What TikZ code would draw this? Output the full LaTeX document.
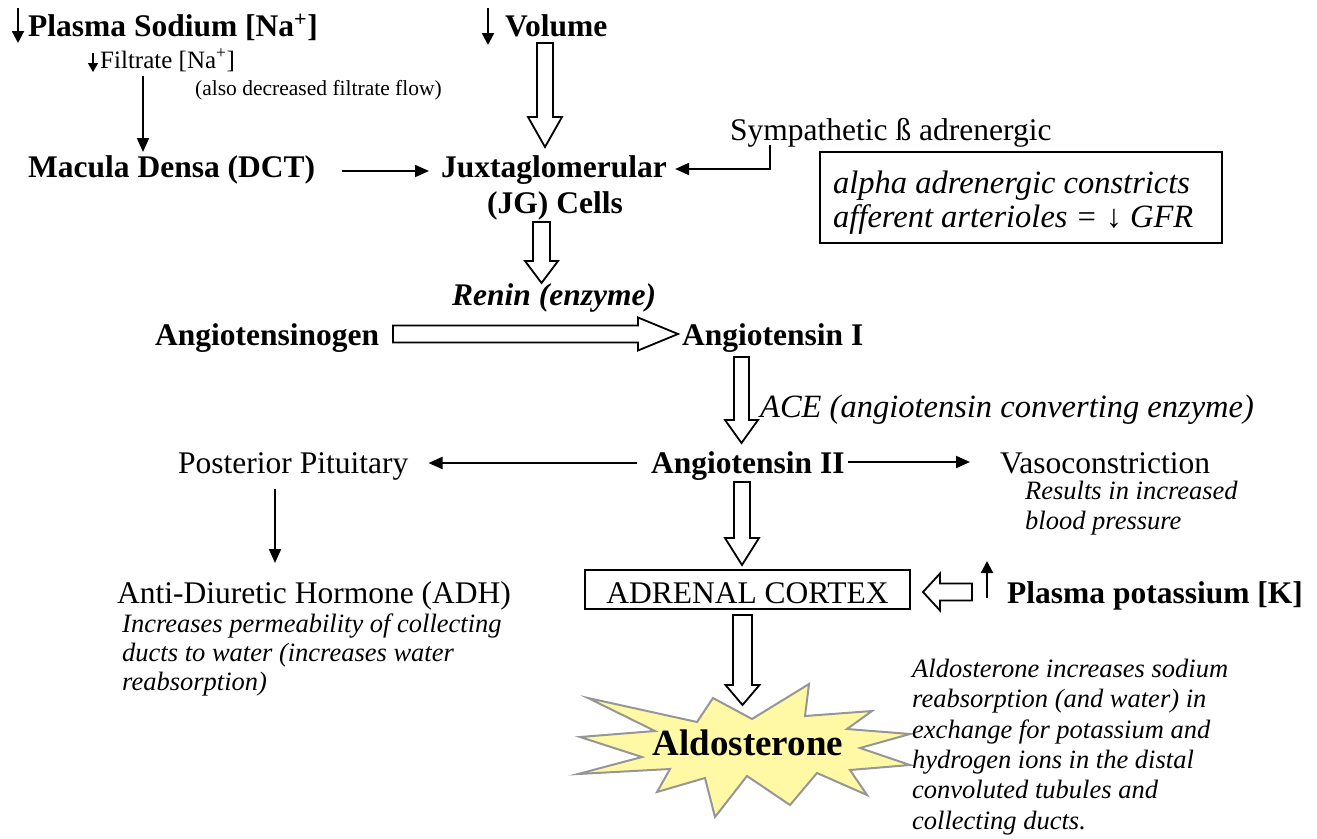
\documentclass[tikz,border=0pt]{standalone}
\usepackage{fontspec}
\setmainfont{Liberation Serif}
\usetikzlibrary{arrows.meta,calc}
\definecolor{staryellow}{RGB}{255,249,165}
\definecolor{stargray}{RGB}{150,150,150}
\newcommand\vblk[5]{\draw[blk] ($(#1)+(-#3,0)$) -- ($(#1)+(#3,0)$) -- ($(#2)+(#3,-#5)$) -- ($(#2)+(#4,-#5)$) -- (#2) -- ($(#2)+(-#4,-#5)$) -- ($(#2)+(-#3,-#5)$) -- cycle;}
\newcommand\rblk[5]{\draw[blk] ($(#1)+(0,-#3)$) -- ($(#2)+(-#5,-#3)$) -- ($(#2)+(-#5,-#4)$) -- (#2) -- ($(#2)+(-#5,#4)$) -- ($(#2)+(-#5,#3)$) -- ($(#1)+(0,#3)$) -- cycle;}
\newcommand\lblk[5]{\draw[blk] ($(#1)+(0,-#3)$) -- ($(#2)+(#5,-#3)$) -- ($(#2)+(#5,-#4)$) -- (#2) -- ($(#2)+(#5,#4)$) -- ($(#2)+(#5,#3)$) -- ($(#1)+(0,#3)$) -- cycle;}
\begin{document}
\begin{tikzpicture}[x=1pt,y=-1pt,
  lbl/.style={inner sep=0pt, anchor=base west, font=\fontsize{31.5}{36}\selectfont},
  blbl/.style={lbl, font=\fontsize{31.5}{36}\selectfont\bfseries},
  ilbl/.style={lbl, font=\fontsize{32.5}{36}\selectfont\itshape},
  note/.style={inner sep=0pt, anchor=base west, font=\fontsize{26.5}{30}\selectfont\itshape},
  arr/.style={line width=2pt, -{Triangle[length=14pt,width=12pt]}},
  sarr/.style={line width=2.2pt, -{Triangle[length=12pt,width=12pt]}},
  tarr/.style={line width=1.6pt, -{Triangle[length=9pt,width=10pt]}},
  blk/.style={draw, line width=1.8pt, fill=white, line join=miter},
  boxed/.style={draw, line width=1.8pt, inner sep=0pt},
]
\useasboundingbox (0,0) rectangle (1317,838);

% ---- top row ----
\node[blbl] (plasma) at (28,36) {Plasma Sodium [Na\textsuperscript{+}]};
\coordinate (plA) at (18,8);
\coordinate (plB) at (18,43);
\draw[sarr] (plA) -- (plB);

\node[lbl, font=\fontsize{25}{30}\selectfont] (filtrate) at (100,68) {Filtrate [Na\textsuperscript{+}]};
\coordinate (fiA) at (93,53);
\coordinate (fiB) at (93,72);
\draw[tarr] (fiA) -- (fiB);
\node[lbl, font=\fontsize{21.5}{26}\selectfont] (also) at (195,95) {(also decreased filtrate flow)};

\node[blbl] (volume) at (505,36) {Volume};
\coordinate (voA) at (488,8);
\coordinate (voB) at (488,45);
\draw[sarr] (voA) -- (voB);

% ---- macula / JG ----
\node[blbl] (macula) at (28,177) {Macula Densa (DCT)};
\node[blbl] (jg1) at (441,177) {Juxtaglomerular};
\node[blbl, anchor=base] (jg2) at (555,213) {(JG) Cells};

\coordinate (fmA) at (143,76);
\coordinate (fmB) at (143,152);
\draw[arr] (fmA) -- (fmB);
\draw[arr] ($(macula.base east)+(27,-6)$) -- ($(jg1.base west)+(-12,-6)$);

\coordinate (vhA) at (545,43);
\coordinate (vhB) at (545,147);
\vblk{vhA}{vhB}{8}{17}{30}

\node[lbl] (symp) at (730,140) {Sympathetic ß adrenergic};
\coordinate (syA) at (770,145);
\draw[arr] (syA) |- ($(jg1.base east)+(8,-8)$);

\node[boxed, minimum width=402pt, minimum height=91pt] (alphabox) at (1021,197.5) {};
\node[ilbl] (alpha1) at (833,193) {alpha adrenergic constricts};
\node[ilbl] (alpha2) at (833,227) {afferent arterioles = ↓ GFR};

% ---- renin ----
\coordinate (jgA) at (541.5,222);
\coordinate (jgB) at (541.5,283);
\vblk{jgA}{jgB}{8.5}{16.5}{22}
\node[lbl, font=\fontsize{31.5}{36}\selectfont\bfseries\itshape] (renin) at (452,305) {Renin (enzyme)};

\node[blbl] (angen) at (155,345) {Angiotensinogen};
\node[blbl] (ang1) at (682,345) {Angiotensin I};
\coordinate (reA) at (393,334);
\coordinate (reB) at (678,334);
\rblk{reA}{reB}{8.5}{16.5}{40}

% ---- ACE ----
\coordinate (acA) at (741.5,357);
\coordinate (acB) at (741.5,443);
\vblk{acA}{acB}{7.5}{16.5}{23}
\node[ilbl] (ace) at (760,417) {ACE (angiotensin converting enzyme)};

% ---- angiotensin II row ----
\node[blbl] (ang2) at (651,473) {Angiotensin II};
\node[lbl] (post) at (178,473) {Posterior Pituitary};
\node[lbl] (vaso) at (1000,473) {Vasoconstriction};
\node[note] (res1) at (1025,499) {Results in increased};
\node[note] (res2) at (1025,529) {blood pressure};
\draw[arr] ($(ang2.base west)+(-14,-10)$) -- ($(post.base east)+(20,-10)$);
\draw[arr] ($(ang2.base east)+(3,-11)$) -- ($(vaso.base west)+(-30,-11)$);

\coordinate (poA) at (275,489);
\coordinate (poB) at (275,563);
\draw[arr] (poA) -- (poB);
\node[lbl] (adh) at (117,603) {Anti-Diuretic Hormone (ADH)};
\node[note] (adh1) at (122,632) {Increases permeability of collecting};
\node[note] (adh2) at (122,661) {ducts to water (increases water};
\node[note] (adh3) at (122,690) {reabsorption)};

% ---- adrenal ----
\coordinate (a2A) at (742,482);
\coordinate (a2B) at (742,565);
\vblk{a2A}{a2B}{8}{17}{27}
\node[boxed, minimum width=325pt, minimum height=39pt] (adrbox) at (747.5,589.5) {};
\node[lbl, anchor=base] (adrenal) at (747.5,603) {ADRENAL CORTEX};

\coordinate (kA) at (972,592);
\coordinate (kB) at (923,592);
\lblk{kA}{kB}{8.5}{18.5}{17}
\coordinate (kuA) at (987,598);
\coordinate (kuB) at (987,561);
\draw[sarr] (kuA) -- (kuB);
\node[blbl] (potassium) at (1007,603) {Plasma potassium [K]};

% ---- aldosterone ----
\draw[fill=staryellow, draw=stargray, line width=2pt, line join=miter]
 (588,698) -- (697,722) -- (713,698) -- (752,719) -- (809,684) -- (805,716)
 -- (872,711) -- (847,729) -- (910,734) -- (860,748) -- (910,765) -- (850,770)
 -- (867,795) -- (817,773) -- (790,805) -- (747,776) -- (715,817) -- (705,778)
 -- (657,792) -- (670,769) -- (578,774) -- (642,757) -- (580,737) -- (655,731) -- cycle;
\node[inner sep=0pt, anchor=base, font=\fontsize{37}{42}\selectfont\bfseries] (aldo) at (748,755) {Aldosterone};
\coordinate (alA) at (742.5,615);
\coordinate (alB) at (742.5,705);
\vblk{alA}{alB}{9.5}{17}{20}

\node[note] (ald1) at (912,677) {Aldosterone increases sodium};
\node[note] (ald2) at (912,707) {reabsorption (and water) in};
\node[note] (ald3) at (912,738) {exchange for potassium and};
\node[note] (ald4) at (912,768) {hydrogen ions in the distal};
\node[note] (ald5) at (912,798) {convoluted tubules and};
\node[note] (ald6) at (912,829) {collecting ducts.};
\end{tikzpicture}
\end{document}
